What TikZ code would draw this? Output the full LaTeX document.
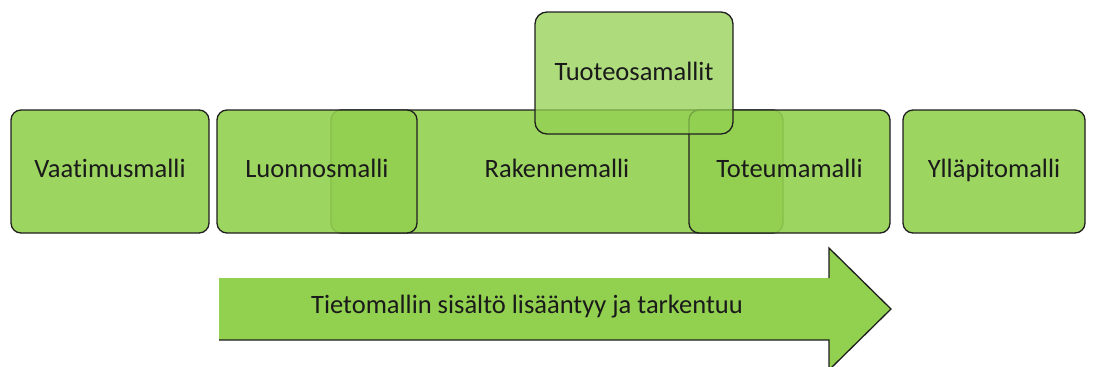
\documentclass[tikz,border=0pt]{standalone}
\usepackage{fontspec}
\setmainfont{Carlito}[Ligatures={NoCommon}]
\usetikzlibrary{calc}
\definecolor{boxgreen}{HTML}{92D050}
\definecolor{edge}{HTML}{1E1E1E}
\definecolor{txt}{HTML}{1A1A1A}
\begin{document}
\begin{tikzpicture}[x=1pt,y=-1pt,
  label font/.style={text=txt, font=\fontsize{26.5}{30}\selectfont,
    text height=18pt, text depth=7pt},
  model/.style={rectangle, rounded corners=10pt, draw=edge, line width=1.3pt,
    fill=boxgreen, fill opacity=0.9, text opacity=1, label font,
    minimum height=123pt, inner sep=0pt},
  upper/.style={model, fill opacity=0.74, rounded corners=12pt,
    text height=20pt, text depth=6pt}]
\useasboundingbox (0,0) rectangle (1096,367);

% stand-alone phases
\node[model, minimum width=198pt] (vaat) at (110,171.5) {Vaatimusmalli};
\node[model, minimum width=182pt] (yllap) at (994,171.5) {Ylläpitomalli};

% overlapping design phases
\node[model, minimum width=452pt] (rak) at (557,171.5) {Rakennemalli};
\node[model, minimum width=200pt] (luon) at (317,171.5) {Luonnosmalli};
\node[model, minimum width=201pt] (tot) at (789.5,171.5) {Toteumamalli};
\node[upper, minimum width=198pt, minimum height=122pt] (tuote) at (634,73) {Tuoteosamallit};

% progress arrow
\coordinate (aL) at (219,309);
\coordinate (aB) at (829,309);
\coordinate (aT) at (891,309);
\fill[boxgreen] ($(aL)+(0,-31)$) -- ($(aB)+(0,-31)$) -- ($(aB)+(0,-61)$) -- (aT)
  -- ($(aB)+(0,61)$) -- ($(aB)+(0,31)$) -- ($(aL)+(0,31)$) -- cycle;
\draw[edge, line width=1.3pt, line join=miter]
  ($(aL)+(0,31)$) -- ($(aB)+(0,31)$) -- ($(aB)+(0,61)$) -- (aT)
  -- ($(aB)+(0,-61)$) -- ($(aB)+(0,-31)$);
\node[label font, inner sep=0pt] (atext) at (527,308)
  {Tietomallin sisältö lisääntyy ja tarkentuu};
\end{tikzpicture}
\end{document}
